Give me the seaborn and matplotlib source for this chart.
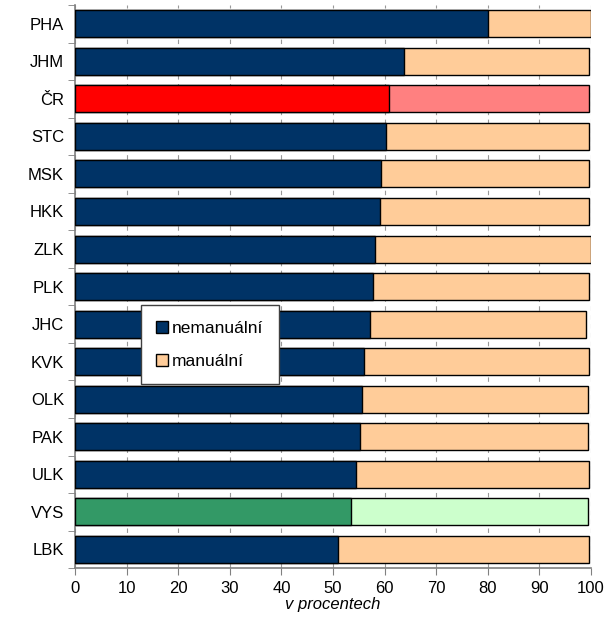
import matplotlib
matplotlib.use("Agg")
import matplotlib.pyplot as plt
import seaborn as sns
import numpy as np
import pandas as pd
from matplotlib.patches import Patch

# data (percent)
regions = ["PHA", "JHM", "ČR", "STC", "MSK", "HKK", "ZLK", "PLK",
           "JHC", "KVK", "OLK", "PAK", "ULK", "VYS", "LBK"]
nemanualni = [80.0, 63.7, 60.9, 60.3, 59.3, 59.1, 58.1, 57.8,
              57.1, 56.0, 55.7, 55.2, 54.5, 53.5, 51.0]
manualni = [20.0, 36.0, 38.8, 39.4, 40.3, 40.5, 41.9, 41.8,
            42.0, 43.7, 43.7, 44.2, 45.2, 45.9, 48.7]

dark_colors = {r: "#003366" for r in regions}
light_colors = {r: "#FFCC99" for r in regions}
dark_colors["ČR"], light_colors["ČR"] = "#FF0000", "#FF8080"
dark_colors["VYS"], light_colors["VYS"] = "#339966", "#CCFFCC"

df = pd.DataFrame({"region": regions, "nemanualni": nemanualni,
                   "manualni": manualni})
df["total"] = df["nemanualni"] + df["manualni"]

sns.set_style("white")
plt.rcParams["font.family"] = ["Liberation Sans", "DejaVu Sans"]
plt.rcParams["text.color"] = "black"
plt.rcParams["axes.labelcolor"] = "black"
plt.rcParams["xtick.labelcolor"] = "black"
plt.rcParams["ytick.labelcolor"] = "black"

fig = plt.figure(figsize=(6.11, 6.23), dpi=100)
ax = fig.add_axes([0.123, 0.088, 0.844, 0.904])

sns.barplot(data=df, y="region", x="total", hue="region", palette=light_colors,
            order=regions, orient="h", width=0.72, legend=False, saturation=1,
            edgecolor="black", linewidth=1.0, ax=ax, zorder=3)
sns.barplot(data=df, y="region", x="nemanualni", hue="region", palette=dark_colors,
            order=regions, orient="h", width=0.72, legend=False, saturation=1,
            edgecolor="black", linewidth=1.0, ax=ax, zorder=4)

ax.set_xlim(0, 100)
ax.set_ylim(len(regions) - 0.5, -0.5)
ax.set_xticks(np.arange(0, 101, 10))
ax.tick_params(axis="x", labelsize=12, length=5, color="#808080",
               direction="out", bottom=True, pad=4)
ax.set_yticks(np.arange(-0.5, len(regions), 1.0), minor=True)
ax.tick_params(axis="y", which="major", length=0, labelsize=12, pad=8)
ax.tick_params(axis="y", which="minor", length=5, color="#808080",
               direction="out", left=True)
ax.set_xlabel("v procentech", fontsize=12, style="italic", labelpad=1)
ax.set_ylabel("")
ax.grid(axis="x", color="#999999", linestyle=(0, (4, 4)), linewidth=0.8, zorder=0)
ax.set_axisbelow(True)

for side in ["top", "right"]:
    ax.spines[side].set_visible(False)
for side in ["left", "bottom"]:
    ax.spines[side].set_color("#808080")
    ax.spines[side].set_linewidth(1.2)

handles = [Patch(facecolor="#003366", edgecolor="black", label="nemanuální"),
           Patch(facecolor="#FFCC99", edgecolor="black", label="manuální")]
leg = ax.legend(handles=handles, loc="upper left", bbox_to_anchor=(0.11, 0.482),
                fontsize=12.5, frameon=True, fancybox=False, framealpha=1,
                edgecolor="#404040", handlelength=0.7, handleheight=0.7,
                handletextpad=0.2, labelspacing=1.0, borderpad=0.9)
leg.get_frame().set_linewidth(1.0)
leg.set_zorder(10)

fig.savefig("out.png", dpi=100)
